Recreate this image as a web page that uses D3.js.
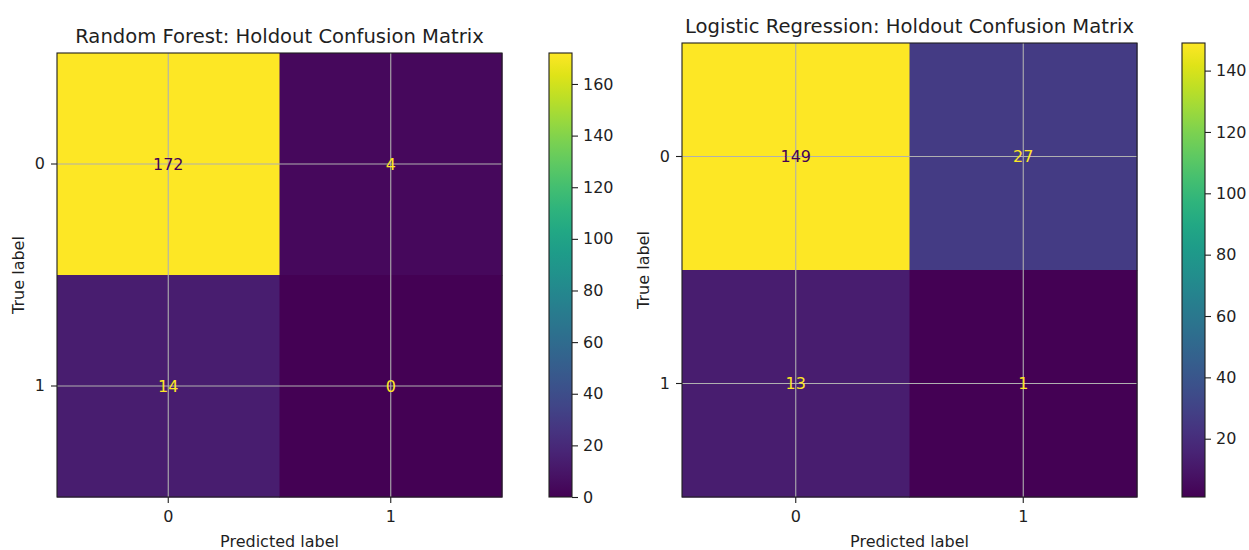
<!DOCTYPE html>
<html>
<head>
<meta charset="utf-8">
<script src="https://cdn.jsdelivr.net/npm/d3@7"></script>
<style>
  body { margin: 0; background: #fff; }
  svg text { font-family: "DejaVu Sans", sans-serif; fill: #1f1f1f; }
</style>
</head>
<body>
<svg width="1249" height="550"></svg>
<script>
// data
var classLabels = ['0', '1'];
var rfMatrix = [[172, 4], [14, 0]];
var lrMatrix = [[149, 27], [13, 1]];
var rfTicks = [0, 20, 40, 60, 80, 100, 120, 140, 160];
var lrTicks = [20, 40, 60, 80, 100, 120, 140];
var titles = ['Random Forest: Holdout Confusion Matrix', 'Logistic Regression: Holdout Confusion Matrix'];

var svg = d3.select('svg');
var defs = svg.append('defs');

// panel layouts
var panels = [
  { title: titles[0], matrix: rfMatrix, ticks: rfTicks, x0: 57, x1: 502, y0: 53, y1: 497, cbx: 549, cbw: 23 },
  { title: titles[1], matrix: lrMatrix, ticks: lrTicks, x0: 682, x1: 1137, y0: 43, y1: 497, cbx: 1182, cbw: 23 }
];

function styleAxis(a) {
  a.select('.domain').remove();
  a.selectAll('line').style('stroke', '#1f1f1f').style('stroke-width', 1.1);
  a.selectAll('text').style('font-size', '16px').style('font-family', '"DejaVu Sans", sans-serif').style('fill', '#1f1f1f');
}

panels.forEach(function(p, pi) {
  var g = svg.append('g');
  var flat = p.matrix.flat();
  var vmin = d3.min(flat), vmax = d3.max(flat);
  var color = d3.scaleSequential(d3.interpolateViridis).domain([vmin, vmax]);

  var x = d3.scaleBand().domain(classLabels).range([p.x0, p.x1]);
  var y = d3.scaleBand().domain(classLabels).range([p.y0, p.y1]);

  var cells = [];
  p.matrix.forEach(function(row, i) {
    row.forEach(function(v, j) { cells.push({ t: classLabels[i], pr: classLabels[j], v: v }); });
  });

  // heatmap cells
  g.selectAll('rect.cell').data(cells).enter().append('rect')
    .attr('x', function(d) { return x(d.pr); })
    .attr('y', function(d) { return y(d.t); })
    .attr('width', x.bandwidth() + 0.5)
    .attr('height', y.bandwidth() + 0.5)
    .style('fill', function(d) { return color(d.v); });

  // grid lines at tick centres
  classLabels.forEach(function(c) {
    var cx = x(c) + x.bandwidth() / 2;
    var cy = y(c) + y.bandwidth() / 2;
    g.append('line').attr('x1', cx).attr('x2', cx).attr('y1', p.y0).attr('y2', p.y1)
      .style('stroke', '#b0b0b0').style('stroke-width', 1.1);
    g.append('line').attr('x1', p.x0).attr('x2', p.x1).attr('y1', cy).attr('y2', cy)
      .style('stroke', '#b0b0b0').style('stroke-width', 1.1);
  });

  // cell values
  var thresh = (vmax + vmin) / 2;
  g.selectAll('text.val').data(cells).enter().append('text')
    .attr('x', function(d) { return x(d.pr) + x.bandwidth() / 2; })
    .attr('y', function(d) { return y(d.t) + y.bandwidth() / 2; })
    .attr('text-anchor', 'middle')
    .attr('dominant-baseline', 'central')
    .style('font-size', '16px')
    .style('fill', function(d) { return d.v < thresh ? color(vmax) : color(vmin); })
    .text(function(d) { return d.v; });

  // frame
  g.append('rect').attr('x', p.x0).attr('y', p.y0)
    .attr('width', p.x1 - p.x0).attr('height', p.y1 - p.y0)
    .style('fill', 'none').style('stroke', '#1f1f1f').style('stroke-width', 1.1);

  // axes
  var xAxis = g.append('g').attr('transform', 'translate(0,' + p.y1 + ')')
    .call(d3.axisBottom(x).tickSize(6).tickPadding(8));
  var yAxis = g.append('g').attr('transform', 'translate(' + p.x0 + ',0)')
    .call(d3.axisLeft(y).tickSize(6).tickPadding(6));
  styleAxis(xAxis);
  styleAxis(yAxis);

  // title and axis labels
  g.append('text').attr('x', (p.x0 + p.x1) / 2).attr('y', p.y0 - 10)
    .attr('text-anchor', 'middle').style('font-size', '19.6px').text(p.title);
  g.append('text').attr('x', (p.x0 + p.x1) / 2).attr('y', p.y1 + 50)
    .attr('text-anchor', 'middle').style('font-size', '16px').text('Predicted label');
  g.append('text')
    .attr('transform', 'translate(' + (p.x0 - 33) + ',' + ((p.y0 + p.y1) / 2) + ') rotate(-90)')
    .attr('text-anchor', 'middle').style('font-size', '16px').text('True label');

  // colorbar
  var cb = d3.scaleLinear().domain([vmin, vmax]).range([p.y1, p.y0]);
  var gradId = 'grad' + pi;
  var grad = defs.append('linearGradient').attr('id', gradId)
    .attr('x1', 0).attr('y1', 1).attr('x2', 0).attr('y2', 0);
  d3.range(0, 1.0001, 0.05).forEach(function(t) {
    grad.append('stop').attr('offset', t).attr('stop-color', d3.interpolateViridis(t));
  });
  g.append('rect').attr('x', p.cbx).attr('y', p.y0).attr('width', p.cbw).attr('height', p.y1 - p.y0)
    .style('fill', 'url(#' + gradId + ')').style('stroke', '#1f1f1f').style('stroke-width', 1.1);
  var cAxis = g.append('g').attr('transform', 'translate(' + (p.cbx + p.cbw) + ',0)')
    .call(d3.axisRight(cb).tickValues(p.ticks).tickSize(6).tickPadding(5));
  styleAxis(cAxis);
});
</script>
</body>
</html>
